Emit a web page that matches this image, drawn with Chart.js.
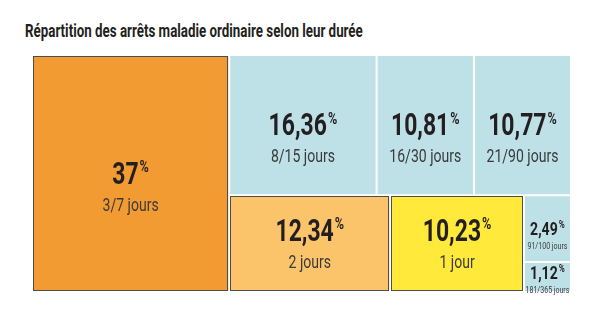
<!DOCTYPE html>
<html>
<head>
<meta charset="utf-8">
<script src="https://cdn.jsdelivr.net/npm/chart.js@4.4.1/dist/chart.umd.min.js"></script>
<style>
  html, body { margin: 0; padding: 0; background: #fff; }
  #wrap { position: relative; width: 600px; height: 325px; }
  #title {
    position: absolute; left: 25px; top: 20px;
    font-family: Roboto, 'DejaVu Sans', sans-serif;
    font-weight: bold; font-size: 18px; color: #231f20;
    transform-origin: left top;
    white-space: nowrap;
  }
  canvas { position: absolute; left: 0; top: 0; }
</style>
</head>
<body>
<div id="wrap">
  <div id="title">Répartition des arrêts maladie ordinaire selon leur durée</div>
  <canvas id="chart" width="600" height="325"></canvas>
</div>
<script>
const categories = ['3/7 jours', '8/15 jours', '16/30 jours', '21/90 jours', '2 jours', '1 jour', '91/100 jours', '181/365 jours'];
const shares = [37, 16.36, 10.81, 10.77, 12.34, 10.23, 2.49, 1.12];

// how the cells are grouped: 'h' splits left to right, 'v' top to bottom
const groups = { dir: 'h', children: [0, { dir: 'v', children: [
  { dir: 'h', children: [1, 2, 3] },
  { dir: 'h', children: [4, 5, { dir: 'v', children: [6, 7] }] }
] }] };

const FILLS = ['#f39b33', '#bee1e8', '#bee1e8', '#bee1e8', '#fbc46b', '#ffe93b', '#bee1e8', '#bee1e8'];
const OUTLINED = [true, false, false, false, true, true, false, false];
const FONT = "Roboto, 'DejaVu Sans', sans-serif";

// squeeze the title to the narrow look of the original
const titleEl = document.getElementById('title');
titleEl.style.transform = 'scaleX(' + (338 / titleEl.offsetWidth) + ')';

function total(node) {
  if (typeof node === 'number') return shares[node];
  return node.children.reduce((s, c) => s + total(c), 0);
}

function layout(node, x0, x1, y0, y1, out) {
  if (typeof node === 'number') {
    out.push({ i: node, x0, x1, y0, y1 });
    return;
  }
  const sum = total(node);
  let pos = node.dir === 'h' ? x0 : y0;
  node.children.forEach(c => {
    const frac = total(c) / sum;
    if (node.dir === 'h') {
      const next = pos + (x1 - x0) * frac;
      layout(c, pos, next, y0, y1, out);
      pos = next;
    } else {
      const next = pos + (y1 - y0) * frac;
      layout(c, x0, x1, pos, next, out);
      pos = next;
    }
  });
}

function condensedText(ctx, txt, x, y, font, sx) {
  ctx.save();
  ctx.font = font;
  ctx.translate(x, y);
  ctx.scale(sx, 1);
  ctx.fillText(txt, 0, 0);
  ctx.restore();
}

function drawLabel(ctx, r, i) {
  const w = r.right - r.left;
  const h = r.bottom - r.top;
  const big = w > 80;
  const numSize = big ? 31 : 19;
  const pctSize = big ? 17 : 11;
  const subSize = big ? 18 : 9;
  const sxB = 0.74, sxR = 0.78;
  const cx = (r.left + r.right) / 2;
  const cy = (r.top + r.bottom) / 2;
  const num = String(shares[i]).replace('.', ',');

  let numBase, subGap;
  if (big) {
    numBase = h > 115 ? cy + 10 : cy - 3;
    subGap = 27;
  } else {
    numBase = h > 50 ? cy + 6 : cy + 2;
    subGap = 14;
  }

  ctx.textAlign = 'left';
  ctx.textBaseline = 'alphabetic';
  ctx.font = `bold ${numSize}px ${FONT}`;
  const nw = ctx.measureText(num).width * sxB;
  ctx.font = `bold ${pctSize}px ${FONT}`;
  const pw = ctx.measureText('%').width * sxB;
  const start = cx - (nw + pw + 1) / 2;
  ctx.fillStyle = '#231f20';
  condensedText(ctx, num, start, numBase, `bold ${numSize}px ${FONT}`, sxB);
  condensedText(ctx, '%', start + nw + 1, numBase - numSize * 0.36, `bold ${pctSize}px ${FONT}`, sxB);

  ctx.font = `${subSize}px ${FONT}`;
  const sw = ctx.measureText(categories[i]).width * sxR;
  ctx.fillStyle = '#3a3a3a';
  condensedText(ctx, categories[i], cx - sw / 2, numBase + subGap, `${subSize}px ${FONT}`, sxR);
}

const treemapCells = {
  id: 'treemapCells',
  afterDatasetsDraw(chart) {
    const { ctx, scales: { x, y } } = chart;
    const cells = [];
    layout(groups, 0, 100, 0, 100, cells);
    cells.forEach(c => {
      const r = {
        left: x.getPixelForValue(c.x0) + 1,
        right: x.getPixelForValue(c.x1) - 1,
        top: y.getPixelForValue(c.y0) + 1,
        bottom: y.getPixelForValue(c.y1) - 1
      };
      ctx.save();
      ctx.fillStyle = FILLS[c.i];
      ctx.fillRect(r.left, r.top, r.right - r.left, r.bottom - r.top);
      if (OUTLINED[c.i]) {
        ctx.strokeStyle = '#4d4d4d';
        ctx.lineWidth = 1;
        ctx.strokeRect(Math.round(r.left) + 0.5, Math.round(r.top) + 0.5,
          Math.round(r.right - r.left) - 1, Math.round(r.bottom - r.top) - 1);
      }
      drawLabel(ctx, r, c.i);
      ctx.restore();
    });
  }
};

new Chart(document.getElementById('chart'), {
  type: 'scatter',
  data: { datasets: [{ data: [] }] },
  options: {
    responsive: false,
    animation: false,
    layout: { padding: { left: 32, right: 29, top: 55, bottom: 33 } },
    plugins: { legend: { display: false }, tooltip: { enabled: false } },
    scales: {
      x: { type: 'linear', min: 0, max: 100, display: false },
      y: { type: 'linear', min: 0, max: 100, reverse: true, display: false }
    }
  },
  plugins: [treemapCells]
});
</script>
</body>
</html>
